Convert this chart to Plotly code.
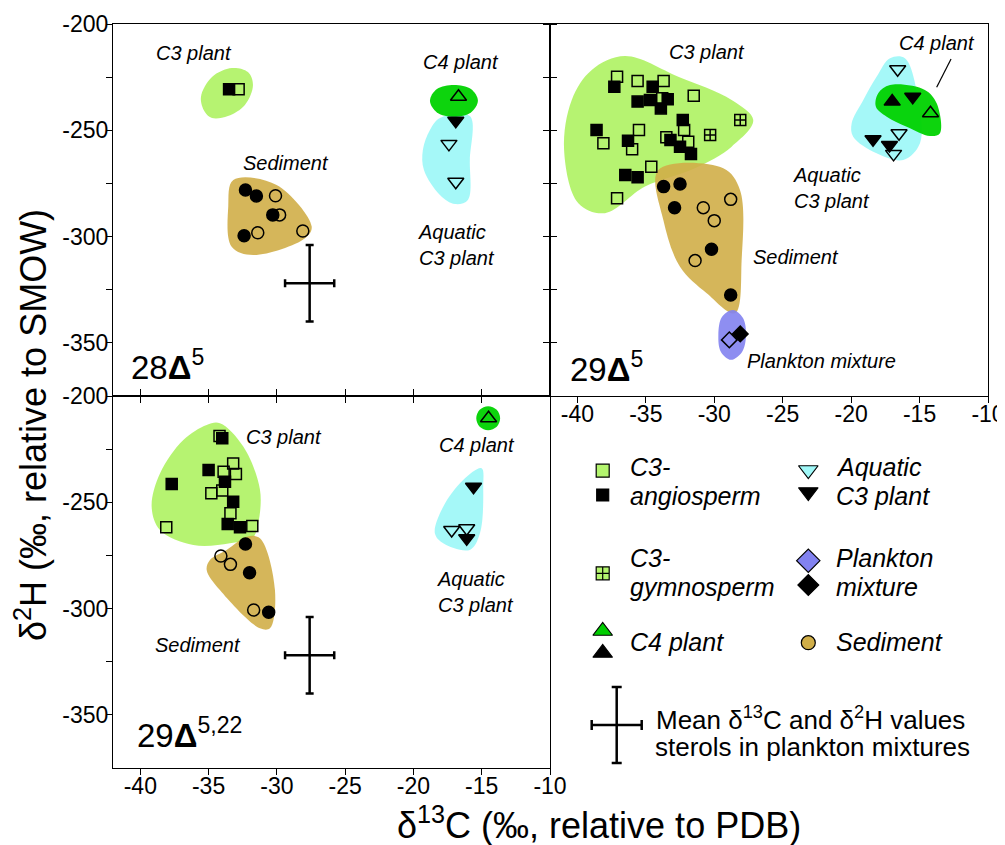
import plotly.graph_objects as go

FONT = "Arial, Liberation Sans, sans-serif"

# ---------------- colours ----------------
C3_COL = "rgba(174,242,98,0.9)"
SED_COL = "rgba(208,174,72,0.9)"
AQ_COL = "rgba(160,248,248,0.95)"
C4_COL = "rgba(0,210,0,0.95)"
PLK_COL = "rgba(130,130,240,0.9)"

# ---------------- data: panel 28Δ5 ----------------
p1_c3ang_open_x = [-32.8]
p1_c3ang_open_y = [-230.7]
p1_c3ang_fill_x = [-33.5]
p1_c3ang_fill_y = [-230.7]
p1_sed_open_x = [-30.1, -29.8, -31.4, -28.1]
p1_sed_open_y = [-280.8, -289.8, -298.2, -297.4]
p1_sed_fill_x = [-32.3, -31.5, -30.3, -32.4]
p1_sed_fill_y = [-278.1, -280.9, -289.8, -299.6]
p1_c4_open_x = [-16.7]
p1_c4_open_y = [-234.2]
p1_aq_fill_x = [-16.9]
p1_aq_fill_y = [-245.5]
p1_aq_open_x = [-17.4, -16.9]
p1_aq_open_y = [-256.4, -274.2]

# ---------------- data: panel 29Δ5 ----------------
p2_c3ang_open_x = [-37.1, -35.6, -33.7, -31.5, -33.8, -38.1, -35.5, -36.0, -33.5, -32.2, -31.9, -34.6, -37.1]
p2_c3ang_open_y = [-224.8, -226.8, -226.8, -233.7, -234.9, -256.1, -249.9, -258.9, -253.3, -249.9, -255.4, -267.1, -282.0]
p2_c3gym_x = [-28.1, -30.3]
p2_c3gym_y = [-245.2, -252.2]
p2_c3ang_fill_x = [-37.3, -34.5, -35.6, -34.7, -33.4, -33.9, -32.3, -38.6, -36.3, -33.2, -32.5, -31.7, -36.5, -35.6]
p2_c3ang_fill_y = [-229.5, -229.5, -236.5, -235.7, -235.4, -239.7, -245.2, -249.9, -254.9, -254.6, -257.7, -261.1, -271.0, -272.1]
p2_sed_fill_x = [-33.7, -32.5, -32.9, -30.2, -28.8]
p2_sed_fill_y = [-276.5, -275.3, -286.4, -306.0, -327.5]
p2_sed_open_x = [-30.8, -30.0, -28.8, -31.4]
p2_sed_open_y = [-286.4, -292.5, -282.5, -311.3]
p2_plk_open_x = [-28.9]
p2_plk_open_y = [-348.6]
p2_plk_fill_x = [-28.1]
p2_plk_fill_y = [-345.8]
p2_aq_open_x = [-16.6, -16.5, -16.9]
p2_aq_open_y = [-221.3, -251.4, -261.1]
p2_aq_fill_x = [-18.4, -17.2, -15.5]
p2_aq_fill_y = [-254.2, -256.9, -234.2]
p2_c4_fill_x = [-17.0]
p2_c4_fill_y = [-236.5]
p2_c4_open_x = [-14.2]
p2_c4_open_y = [-242.0]

# ---------------- data: panel 29Δ5,22 ----------------
p3_c3ang_open_x = [-34.2, -33.2, -33.0, -33.9, -34.8, -34.0, -33.4, -31.8, -38.1]
p3_c3ang_open_y = [-218.8, -231.7, -236.7, -235.6, -245.8, -244.5, -255.2, -261.1, -261.8]
p3_c3ang_fill_x = [-34.0, -35.0, -33.8, -33.2, -33.6, -32.7, -37.7]
p3_c3ang_fill_y = [-219.9, -234.8, -240.3, -249.7, -260.2, -261.8, -241.4]
p3_sed_fill_x = [-32.3, -32.0, -30.6]
p3_sed_fill_y = [-269.6, -283.1, -301.7]
p3_sed_open_x = [-34.1, -33.4, -31.7]
p3_sed_open_y = [-275.3, -279.2, -300.7]
p3_c4_open_x = [-14.5]
p3_c4_open_y = [-210.5]
p3_aq_fill_x = [-15.6, -16.1]
p3_aq_fill_y = [-242.7, -266.9]
p3_aq_open_x = [-17.2, -16.1]
p3_aq_open_y = [-263.0, -262.2]

# mean of sterols in plankton mixtures (with spread)
plk_mean_x = [-27.6]
plk_mean_y = [-322.0]
plk_mean_ex = [1.8]
plk_mean_ey = [18.0]

# ---------------- group envelopes (outlines, data units) ----------------
p1_c3_env = ([-35.27, -35.56, -34.75, -33.29, -32.12, -31.75, -32.34, -33.58, -34.75],
             [-241.4, -234.3, -224.9, -220.7, -222.6, -228.7, -238.1, -243.3, -244.2])
p1_sed_env = ([-33.19, -30.02, -27.45, -27.94, -31.73, -33.31, -33.56],
              [-273.4, -275.7, -295.3, -300.8, -308.7, -304.8, -285.9])
p1_aq_env = ([-18.06, -15.87, -15.87, -16.01, -16.96, -18.06, -19.23, -19.31, -18.79],
             [-244.2, -243.3, -264.0, -282.8, -284.7, -280.4, -268.7, -259.3, -249.9])
p1_c4_env = ([-18.79, -18.28, -17.04, -15.79, -15.28, -15.79, -17.04, -18.28],
             [-236.1, -230.6, -228.7, -230.6, -236.1, -241.6, -243.6, -241.6])

p2_c3_env = ([-36.52, -32.63, -28.73, -27.15, -28.73, -31.41, -35.06, -37.98, -39.93, -40.97, -40.41, -38.95],
             [-215.1, -224.8, -235.7, -245.2, -257.7, -267.9, -276.5, -289.0, -284.3, -259.3, -235.7, -221.6])
p2_sed_env = ([-34.09, -29.34, -28.12, -28.0, -28.49, -30.55, -32.5, -33.72],
              [-268.7, -267.9, -278.1, -311.0, -336.1, -326.7, -314.2, -292.2])
p2_plk_env = ([-29.70, -29.44, -28.63, -27.90, -27.68, -27.97, -28.78, -29.51],
              [-346.3, -337.8, -334.5, -338.3, -346.3, -354.3, -358.0, -354.3])
p2_aq_env = ([-17.16, -16.07, -15.1, -14.97, -16.19, -18.14, -19.85, -19.96, -19.11, -18.14],
             [-216.1, -216.1, -235.7, -256.1, -264.0, -260.8, -253.0, -246.7, -235.7, -224.8])
p2_c4_env = ([-18.02, -17.16, -14.61, -13.75, -13.51, -14.24, -15.94, -17.4, -18.19],
             [-232.6, -228.7, -231.0, -237.3, -251.4, -252.7, -248.3, -243.6, -238.9])

p3_c3_env = ([-35.14, -34.17, -32.46, -31.24, -31.36, -31.73, -33.44, -36.12, -38.56, -39.17, -38.56, -36.85],
             [-213.6, -212.8, -223.8, -244.0, -259.7, -266.2, -269.3, -270.1, -263.0, -252.1, -236.4, -220.7])
p3_sed_env = ([-32.21, -31.24, -30.14, -30.51, -31.24, -34.17, -35.14, -34.9, -33.68],
              [-266.2, -266.9, -291.3, -309.3, -309.3, -291.3, -281.8, -277.1, -272.4])
p3_aq_env = ([-15.01, -14.89, -15.13, -15.87, -17.82, -18.43, -17.82, -16.36],
             [-234.0, -242.7, -264.6, -272.4, -269.3, -264.6, -252.1, -239.5])
p3_c4_env = ([-15.40, -15.15, -14.53, -13.90, -13.65, -13.90, -14.53, -15.15],
             [-210.5, -206.5, -204.8, -206.5, -210.5, -214.5, -216.1, -214.5])

# axis ticks
x_ticks = [-40, -35, -30, -25, -20, -15, -10]
x_ticktext = ["-40", "-35", "-30", "-25", "-20", "-15", "-10"]
y_ticks = [-350, -300, -250, -200]
y_ticktext = ["-350", "-300", "-250", "-200"]
y_minor_ticks = [-325, -275, -225]

# ---------------- page geometry (page has an 8px body margin) ----------------
OFF = 8
W, H = 1005 - OFF, 845 - OFF


def fx(px):
    return (px - OFF) / W


def fy(py):
    return 1 - (py - OFF) / H


fig = go.Figure()


def env(outline, color, xa, ya):
    xs = list(outline[0]) + [outline[0][0]]
    ys = list(outline[1]) + [outline[1][0]]
    fig.add_trace(go.Scatter(x=xs, y=ys, mode="lines", fill="toself", fillcolor=color,
                             line=dict(width=0, shape="spline", smoothing=1.0, color=color),
                             hoverinfo="skip", showlegend=False, xaxis=xa, yaxis=ya))


def pts(x, y, symbol, size, xa, ya, fill="black"):
    fig.add_trace(go.Scatter(x=x, y=y, mode="markers", showlegend=False, xaxis=xa, yaxis=ya,
                             marker=dict(symbol=symbol, size=size, color=fill,
                                         line=dict(width=1.5, color="black"))))


def cross(xa, ya):
    fig.add_trace(go.Scatter(x=plk_mean_x, y=plk_mean_y, mode="markers", showlegend=False,
                             xaxis=xa, yaxis=ya, marker=dict(size=1, color="black"),
                             error_x=dict(type="data", array=plk_mean_ex, color="black", thickness=2.5, width=4),
                             error_y=dict(type="data", array=plk_mean_ey, color="black", thickness=2.5, width=4)))


# ---- panel 1 ----
env(p1_c3_env, C3_COL, "x", "y")
env(p1_sed_env, SED_COL, "x", "y")
env(p1_aq_env, AQ_COL, "x", "y")
env(p1_c4_env, C4_COL, "x", "y")
pts(p1_c3ang_open_x, p1_c3ang_open_y, "square-open", 11, "x", "y")
pts(p1_c3ang_fill_x, p1_c3ang_fill_y, "square", 11, "x", "y")
pts(p1_sed_open_x, p1_sed_open_y, "circle-open", 12, "x", "y")
pts(p1_sed_fill_x, p1_sed_fill_y, "circle", 12, "x", "y")
pts(p1_c4_open_x, p1_c4_open_y, "triangle-up-open", 14, "x", "y")
pts(p1_aq_open_x, p1_aq_open_y, "triangle-down-open", 14, "x", "y")
pts(p1_aq_fill_x, p1_aq_fill_y, "triangle-down", 14, "x", "y")
cross("x", "y")

# ---- panel 2 ----
env(p2_c3_env, C3_COL, "x2", "y2")
env(p2_sed_env, SED_COL, "x2", "y2")
env(p2_plk_env, PLK_COL, "x2", "y2")
env(p2_aq_env, AQ_COL, "x2", "y2")
env(p2_c4_env, C4_COL, "x2", "y2")
pts(p2_c3ang_open_x, p2_c3ang_open_y, "square-open", 11, "x2", "y2")
pts(p2_c3ang_fill_x, p2_c3ang_fill_y, "square", 11, "x2", "y2")
pts(p2_c3gym_x, p2_c3gym_y, "square-cross-open", 11, "x2", "y2")
pts(p2_sed_open_x, p2_sed_open_y, "circle-open", 12, "x2", "y2")
pts(p2_sed_fill_x, p2_sed_fill_y, "circle", 12, "x2", "y2")
pts(p2_plk_open_x, p2_plk_open_y, "diamond-open", 12, "x2", "y2")
pts(p2_plk_fill_x, p2_plk_fill_y, "diamond", 12, "x2", "y2")
pts(p2_aq_open_x, p2_aq_open_y, "triangle-down-open", 14, "x2", "y2")
pts(p2_aq_fill_x, p2_aq_fill_y, "triangle-down", 14, "x2", "y2")
pts(p2_c4_open_x, p2_c4_open_y, "triangle-up-open", 14, "x2", "y2")
pts(p2_c4_fill_x, p2_c4_fill_y, "triangle-up", 14, "x2", "y2")

# ---- panel 3 ----
env(p3_c3_env, C3_COL, "x3", "y3")
env(p3_sed_env, SED_COL, "x3", "y3")
env(p3_aq_env, AQ_COL, "x3", "y3")
env(p3_c4_env, C4_COL, "x3", "y3")
pts(p3_c3ang_open_x, p3_c3ang_open_y, "square-open", 11, "x3", "y3")
pts(p3_c3ang_fill_x, p3_c3ang_fill_y, "square", 11, "x3", "y3")
pts(p3_sed_open_x, p3_sed_open_y, "circle-open", 12, "x3", "y3")
pts(p3_sed_fill_x, p3_sed_fill_y, "circle", 12, "x3", "y3")
pts(p3_c4_open_x, p3_c4_open_y, "triangle-up-open", 14, "x3", "y3")
pts(p3_aq_open_x, p3_aq_open_y, "triangle-down-open", 14, "x3", "y3")
pts(p3_aq_fill_x, p3_aq_fill_y, "triangle-down", 14, "x3", "y3")
cross("x3", "y3")

# ---------------- key (drawn in a pixel-unit helper axis) ----------------
key_items = [
    ("square", "rgb(180,245,110)", 13, 602.7, 470.7),
    ("square", "black", 12, 602.7, 495.0),
    ("triangle-down", "rgb(160,248,248)", 17, 808.3, 470.0),
    ("triangle-down", "black", 17, 808.3, 492.0),
    ("square-cross", "rgb(180,245,110)", 13, 602.7, 573.3),
    ("diamond", "rgb(130,130,240)", 18, 808.3, 560.7),
    ("diamond", "black", 16, 808.3, 585.0),
    ("triangle-up", "rgb(0,205,0)", 17, 602.7, 631.0),
    ("triangle-up", "black", 17, 602.7, 653.0),
    ("circle", "rgb(208,174,72)", 14, 808.3, 642.7),
]
for sym, col, sz, kx, ky in key_items:
    fig.add_trace(go.Scatter(x=[kx], y=[ky], mode="markers", showlegend=False, xaxis="x4", yaxis="y4",
                             marker=dict(symbol=sym, size=sz, color=col,
                                         line=dict(width=1.2, color="black"))))
fig.add_trace(go.Scatter(x=[616.7], y=[725.0], mode="markers", showlegend=False, xaxis="x4", yaxis="y4",
                         marker=dict(size=1, color="black"),
                         error_x=dict(type="constant", value=25, color="black", thickness=2.5, width=5),
                         error_y=dict(type="constant", value=38, color="black", thickness=2.5, width=5)))

key_texts = [
    ("<i>C3-</i>", 628, 467, 25), ("<i>angiosperm</i>", 628, 496, 25),
    ("<i>Aquatic</i>", 834, 467, 25), ("<i>C3 plant</i>", 834, 496, 25),
    ("<i>C3-</i>", 628, 558, 25), ("<i>gymnosperm</i>", 628, 587, 25),
    ("<i>Plankton</i>", 834, 558, 25), ("<i>mixture</i>", 834, 587, 25),
    ("<i>C4 plant</i>", 628, 642, 25), ("<i>Sediment</i>", 834, 642, 25),
    ("Mean δ<sup>13</sup>C and δ<sup>2</sup>H values", 654, 718, 26),
    ("sterols in plankton mixtures", 653, 747, 26),
]

annotations = []
for t, kx, ky, fs in key_texts:
    annotations.append(dict(text=t, x=kx, y=ky, xref="x4", yref="y4", xanchor="left", yanchor="middle",
                            showarrow=False, font=dict(family=FONT, size=fs, color="black")))

# panel labels
lab = dict(showarrow=False, font=dict(family=FONT, size=20, color="black"))
panel_labels = [
    ("<i>C3 plant</i>", -36.1, -213.6, "x", "y", "center"),
    ("<i>C4 plant</i>", -16.5, -217.9, "x", "y", "center"),
    ("<i>Sediment</i>", -29.3, -265.4, "x", "y", "center"),
    ("<i>Aquatic<br>C3 plant</i>", -19.8, -304.0, "x", "y", "left"),
    ("<i>C3 plant</i>", -30.5, -213.2, "x2", "y2", "center"),
    ("<i>C4 plant</i>", -13.7, -208.9, "x2", "y2", "center"),
    ("<i>Aquatic<br>C3 plant</i>", -24.4, -277.1, "x2", "y2", "left"),
    ("<i>Sediment</i>", -24.0, -309.6, "x2", "y2", "center"),
    ("<i>Plankton mixture</i>", -22.2, -358.5, "x2", "y2", "center"),
    ("<i>C3 plant</i>", -29.5, -219.3, "x3", "y3", "center"),
    ("<i>C4 plant</i>", -15.35, -223.0, "x3", "y3", "center"),
    ("<i>Aquatic<br>C3 plant</i>", -18.4, -292.2, "x3", "y3", "left"),
    ("<i>Sediment</i>", -35.8, -317.1, "x3", "y3", "center"),
]
for t, ax, ay, xr, yr, anc in panel_labels:
    a = dict(lab)
    a.update(text=t, x=ax, y=ay, xref=xr, yref=yr, xanchor=anc, yanchor="middle", align="left")
    annotations.append(a)

big = [
    ("28<b>Δ</b><sup>5</sup>", -40.8, -360.4, "x", "y"),
    ("29<b>Δ</b><sup>5</sup>", -40.7, -361.3, "x2", "y2"),
    ("29<b>Δ</b><sup>5,22</sup>", -40.4, -358.5, "x3", "y3"),
]
for t, ax, ay, xr, yr in big:
    annotations.append(dict(text=t, x=ax, y=ay, xref=xr, yref=yr, xanchor="left", yanchor="middle",
                            showarrow=False, font=dict(family=FONT, size=33, color="black")))

annotations.append(dict(text="δ<sup>13</sup>C (‰, relative to PDB)", x=fx(599), y=fy(823),
                        xref="paper", yref="paper", xanchor="center", yanchor="middle", showarrow=False,
                        font=dict(family=FONT, size=36, color="black")))
annotations.append(dict(text="δ<sup>2</sup>H (‰, relative to SMOW)", x=fx(31), y=fy(425),
                        xref="paper", yref="paper", xanchor="center", yanchor="middle", showarrow=False,
                        textangle=-90, font=dict(family=FONT, size=36, color="black")))

XL, XM, XR = fx(113), fx(550), fx(988)
YB, YM, YT = fy(768), fy(396), fy(24)

common_x = dict(range=[-42, -10], tickmode="array", tickvals=x_ticks, ticktext=x_ticktext, showline=True,
                linecolor="black", linewidth=1, ticklen=6, tickcolor="black", showgrid=False, zeroline=False,
                automargin=False, ticklabelstandoff=-9, tickfont=dict(family=FONT, size=23, color="black"))
common_y = dict(range=[-375, -200], tickmode="array", tickvals=y_ticks, ticktext=y_ticktext, showline=True,
                linecolor="black", linewidth=1, ticklen=6, tickcolor="black", showgrid=False, zeroline=False,
                automargin=False, ticklabelstandoff=-7, tickfont=dict(family=FONT, size=23, color="black"))


def yminor(side):
    return dict(tickmode="array", tickvals=y_minor_ticks, ticks=side, ticklen=6, tickcolor="black",
                showgrid=False)


fig.update_layout(
    width=W, height=H, margin=dict(l=0, r=0, t=0, b=0, autoexpand=False),
    paper_bgcolor="white", plot_bgcolor="rgba(0,0,0,0)",
    showlegend=False,
    xaxis=dict(common_x, domain=[XL, XM], anchor="y", ticks="outside", showticklabels=False, mirror=True),
    yaxis=dict(common_y, domain=[YM, YT], anchor="x", ticks="outside", mirror="ticks", minor=yminor("outside")),
    xaxis2=dict(common_x, domain=[XM, XR], anchor="y2", ticks="outside", showticklabels=True, mirror=True),
    yaxis2=dict(common_y, domain=[YM, YT], anchor="x2", ticks="outside", showticklabels=False, mirror=True,
                minor=yminor("outside")),
    xaxis3=dict(common_x, domain=[XL, XM], anchor="y3", ticks="outside", showticklabels=True, mirror="ticks"),
    yaxis3=dict(common_y, domain=[YB, YM], anchor="x3", ticks="outside", mirror=True, minor=yminor("outside")),
    xaxis4=dict(domain=[fx(560), 1.0], range=[560, 1005], visible=False, anchor="y4", automargin=False),
    yaxis4=dict(domain=[fy(800), fy(440)], range=[800, 440], visible=False, anchor="x4", automargin=False),
    annotations=annotations,
    shapes=[dict(type="line", xref="x2", yref="y2", x0=-12.7, y0=-216.5, x1=-13.75, y1=-229.8,
                 line=dict(color="black", width=1.2))],
)

fig.write_html("out.html")
